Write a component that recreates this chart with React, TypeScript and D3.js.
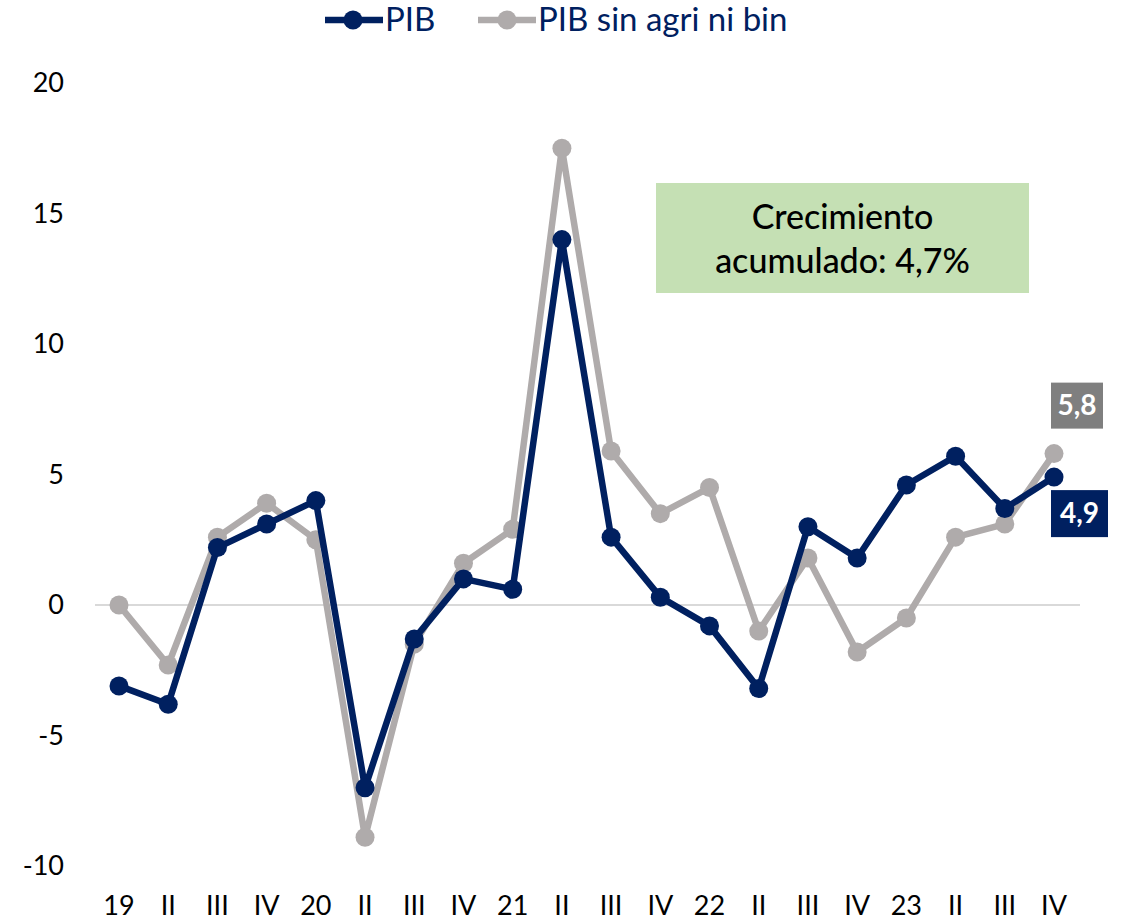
import React from "react";
import * as d3 from "d3";

const categories = ["19","II","III","IV","20","II","III","IV","21","II","III","IV","22","II","III","IV","23","II","III","IV"];
const pib = [-3.1,-3.8,2.2,3.1,4.0,-7.0,-1.3,1.0,0.6,14.0,2.6,0.3,-0.8,-3.2,3.0,1.8,4.6,5.7,3.7,4.9];
const pibSinAgri = [0.0,-2.3,2.6,3.9,2.5,-8.9,-1.5,1.6,2.9,17.5,5.9,3.5,4.5,-1.0,1.8,-1.8,-0.5,2.6,3.1,5.8];
const yTicks = [-10,-5,0,5,10,15,20];
const seriesNames = ["PIB","PIB sin agri ni bin"];
const annotation = ["Crecimiento","acumulado: 4,7%"];

const W = 1122, H = 921;
const NAVY = "#002060";
const GRAY = "#afabab";
const FONT = "'Gill Sans MT','Gill Sans',Lato,'Open Sans',sans-serif";

export default function App() {
  const x = d3.scalePoint<number>().domain(d3.range(categories.length)).range([119, 1054]);
  const y = d3.scaleLinear().domain([-10, 20]).range([866, 83]);
  const line = d3.line<number>().x((_, i) => x(i)!).y((d) => y(d));
  const n = categories.length - 1;
  const fmt = (v: number) => v.toFixed(1).replace(".", ",");

  const series = [
    { name: seriesNames[1], data: pibSinAgri, color: GRAY },
    { name: seriesNames[0], data: pib, color: NAVY },
  ];

  return (
    <svg width={W} height={H} style={{ position: "absolute", left: 0, top: 0, background: "#fff" }} fontFamily={FONT}>
      {/* zero line */}
      <line x1={95} x2={1080} y1={y(0)} y2={y(0)} stroke="#d9d9d9" strokeWidth={2} />
      {/* y ticks */}
      {yTicks.map((t) => (
        <text key={t} x={64} y={y(t)} dy="0.35em" textAnchor="end" fontSize={27} fill="#000">
          {t}
        </text>
      ))}
      {/* x ticks */}
      {categories.map((c, i) => (
        <text key={i} x={x(i)} y={915} textAnchor="middle" fontSize={27} fill="#000">
          {c}
        </text>
      ))}
      {/* series */}
      {series.map((s) => (
        <g key={s.name}>
          <path d={line(s.data)!} fill="none" stroke={s.color} strokeWidth={6.5} strokeLinejoin="round" />
          {s.data.map((v, i) => (
            <circle key={i} cx={x(i)} cy={y(v)} r={9.5} fill={s.color} />
          ))}
        </g>
      ))}
      {/* legend */}
      <g>
        <line x1={325} x2={383} y1={20} y2={20} stroke={NAVY} strokeWidth={6.5} />
        <circle cx={353} cy={20} r={9.5} fill={NAVY} />
        <text x={385} y={31} fontSize={33} fill={NAVY}>{seriesNames[0]}</text>
        <line x1={478} x2={536} y1={20} y2={20} stroke={GRAY} strokeWidth={6.5} />
        <circle cx={507} cy={20} r={9.5} fill={GRAY} />
        <text x={538} y={31} fontSize={33} fill={NAVY}>{seriesNames[1]}</text>
      </g>
      {/* annotation */}
      <rect x={656} y={183} width={373} height={110} fill="#c5e0b4" />
      <text x={842.5} y={229} textAnchor="middle" fontSize={34} fontWeight={500} fill="#000">{annotation[0]}</text>
      <text x={842.5} y={273} textAnchor="middle" fontSize={34} fontWeight={500} fill="#000">{annotation[1]}</text>
      {/* end labels */}
      <rect x={x(n)! - 3} y={y(pibSinAgri[n]) - 71} width={52} height={46} fill="#7f7f7f" />
      <text x={x(n)! + 23} y={y(pibSinAgri[n]) - 48} dy="0.35em" textAnchor="middle" fontSize={28} fontWeight="bold" fill="#fff">
        {fmt(pibSinAgri[n])}
      </text>
      <rect x={x(n)! - 3} y={y(pib[n]) + 13} width={57} height={47} fill={NAVY} />
      <text x={x(n)! + 25.5} y={y(pib[n]) + 36.5} dy="0.35em" textAnchor="middle" fontSize={28} fontWeight="bold" fill="#fff">
        {fmt(pib[n])}
      </text>
    </svg>
  );
}
